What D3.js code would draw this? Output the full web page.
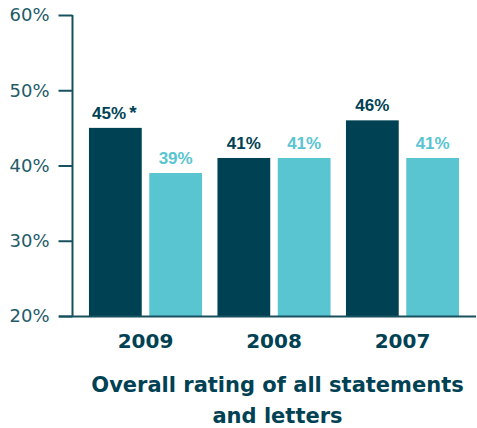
<!DOCTYPE html>
<html><head><meta charset="utf-8">
<script src="https://cdn.jsdelivr.net/npm/d3@7"></script>
<style>
html,body{margin:0;padding:0;background:#fff;}
svg{display:block;}
</style></head>
<body>
<svg id="chart" width="477" height="428"></svg>
<script>
const years = ["2009", "2008", "2007"];
const seriesNames = ["A", "B"];
const valuesA = [45, 41, 46];
const valuesB = [39, 41, 41];
const labelsA = ["45%", "41%", "46%"];
const notesA = ["*", "", ""];
const labelsB = ["39%", "41%", "41%"];
const yTicks = [20, 30, 40, 50, 60];
const title = ["Overall rating of all statements", "and letters"];

const colors = {A: "#004254", B: "#58c5d0"};
const axisColor = "#17505e";
const svg = d3.select("#chart");

const y = d3.scaleLinear().domain([20, 60]).range([316, 15]);
const x0 = d3.scaleBand().domain(years).range([81.25, 466.75]).paddingInner(0.12).paddingOuter(0.06);
const x1 = d3.scaleBand().domain(seriesNames).range([0, x0.bandwidth()]).paddingInner(0.125);

const rows = years.map((yr, i) => ({year: yr, vals: [
  {key: "A", v: valuesA[i], label: labelsA[i], note: notesA[i]},
  {key: "B", v: valuesB[i], label: labelsB[i], note: ""}
]}));

const g = svg.selectAll("g.grp").data(rows).join("g")
  .attr("transform", d => `translate(${x0(d.year)},0)`);
g.selectAll("rect").data(d => d.vals).join("rect")
  .attr("x", d => x1(d.key)).attr("width", x1.bandwidth())
  .attr("y", d => y(d.v)).attr("height", d => y(20) - y(d.v))
  .attr("fill", d => colors[d.key]);
const lbl = g.selectAll("text.val").data(d => d.vals).join("text")
  .attr("class", "val")
  .attr("x", d => x1(d.key) + x1.bandwidth() / 2 + (d.note ? -1 : 0))
  .attr("y", d => y(d.v) - 9)
  .attr("text-anchor", "middle")
  .attr("font-family", "'Liberation Sans', Arial, sans-serif")
  .attr("font-weight", 700)
  .attr("font-size", 17)
  .attr("fill", d => colors[d.key]);
lbl.append("tspan").text(d => d.label);
lbl.filter(d => d.note).append("tspan").attr("dx", 3).attr("font-size", 19).text(d => d.note);

// y axis
const yAxis = d3.axisLeft(y).tickValues(yTicks).tickFormat(d => d + "%").tickSize(14).tickPadding(9);
const ya = svg.append("g").attr("transform", "translate(72.5,0)").call(yAxis);
ya.select(".domain").remove();
ya.append("line").attr("x1", 0).attr("x2", 0).attr("y1", 15).attr("y2", 317)
  .attr("stroke", axisColor).attr("stroke-width", 2);
ya.selectAll(".tick line").attr("stroke", axisColor).attr("stroke-width", 2);
ya.selectAll(".tick text").attr("fill", "#235b69")
  .attr("font-family", "'DejaVu Sans', sans-serif")
  .attr("font-size", 18);

// baseline
svg.append("line").attr("x1", 59).attr("x2", 476).attr("y1", y(20) + 0.5).attr("y2", y(20) + 0.5)
  .attr("stroke", axisColor).attr("stroke-width", 2);

// x axis labels
const xAxis = d3.axisBottom(x0).tickSize(0).tickPadding(0);
const xa = svg.append("g").attr("transform", "translate(0,317)").call(xAxis);
xa.select(".domain").remove();
xa.selectAll(".tick text").attr("fill", "#004254")
  .attr("dy", null).attr("y", 31)
  .attr("font-family", "'DejaVu Sans', sans-serif")
  .attr("font-weight", 700).attr("font-size", 20);

// title
svg.append("text").attr("x", 277.5).attr("text-anchor", "middle")
  .attr("font-family", "'DejaVu Sans', sans-serif")
  .attr("font-weight", 700).attr("font-size", 21).attr("fill", "#004254")
  .selectAll("tspan").data(title).join("tspan")
  .attr("x", 277.5).attr("y", (d, i) => 392 + i * 31).text(d => d);
</script>
</body></html>
